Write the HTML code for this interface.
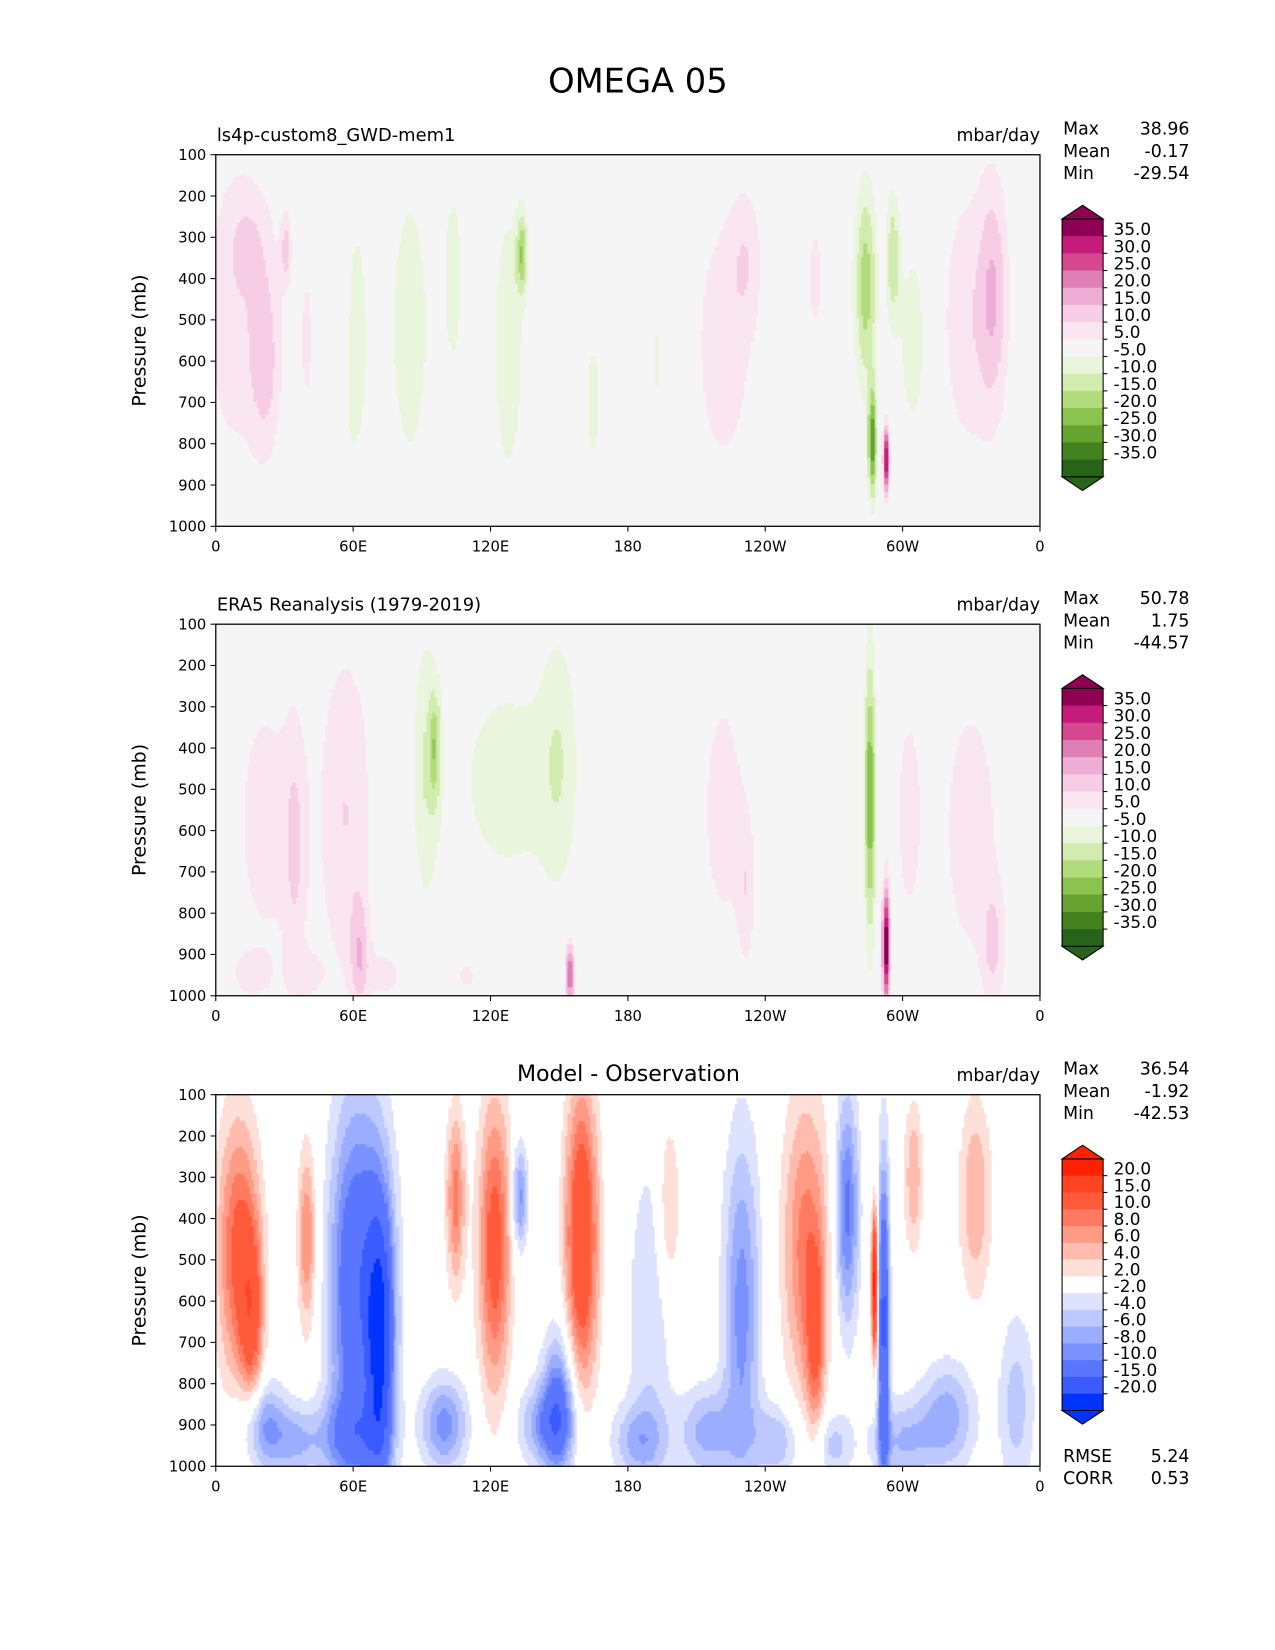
<!DOCTYPE html>
<html><head><meta charset="utf-8">
<style>
html,body{margin:0;padding:0;background:#fff;overflow:hidden;width:1275px;height:1650px;}
#wrap{position:relative;width:1211px;height:1567px;overflow:hidden;font-family:"Liberation Sans","DejaVu Sans",sans-serif;transform:scale(1.0526);transform-origin:0 0;}
canvas{position:absolute;display:block;}
svg{position:absolute;left:0;top:0;display:block;}
text{font-family:"DejaVu Sans","Liberation Sans",sans-serif;fill:#000;}
</style></head>
<body>
<div id="wrap">
<canvas id="c0" width="783" height="353" style="left:205px;top:147px"></canvas>
<canvas id="c1" width="783" height="353" style="left:205px;top:593px"></canvas>
<canvas id="c2" width="783" height="353" style="left:205px;top:1040px"></canvas>
<svg id="ov" width="1211" height="1567"></svg>
</div>
<script>
// ---- data: blobs [lon(0..360 east from 0), pressure center, lon halfwidth, p halfwidth, amplitude]
const modelLon=[8,22,31,60,85,104,128,134,165,193,222,232,262,284,287,293,296,305,330,340,15,40,55];
const modelP=[500,600,330,550,520,400,560,340,700,600,560,350,400,420,800,840,350,550,500,430,300,550,400];
const modelLW=[14,7,2.5,8,10,4,7,2.5,4,3,14,7,4,5,1.8,1.3,3,7,14,6,10,4,4];
const modelPW=[380,240,90,380,400,220,360,100,200,170,360,170,160,250,130,80,160,270,350,280,140,270,300];
const modelAmp=[8,11,12,-8,-8,-9,-9,-18,-7,-6,8,7,7,-18,-30,40,-14,-8,9,11,6,6,6];

const eraLon=[22,35,57,63,92,96,128,150,155,222,232,286,293,303,330,340,75,110,40,250,15];
const eraP=[580,650,560,900,450,400,480,420,950,550,750,520,880,560,600,880,950,950,950,960,950];
const eraLW=[16,5,12,4,6,2.5,28,8,2,10,4,2.5,1.6,7,14,5,10,10,8,6,10];
const eraPW=[400,320,420,140,340,130,320,320,80,320,200,340,140,320,370,140,70,70,60,60,60];
const eraAmp=[7,8,10,11,-9,-13,-7,-7,26,8,8,-24,42,7,8,10,6,6,6,5,5];

const diffLon=[10,16,40,65,72,57,105,122,133,160,150,190,198,230,258,262,276,288,292,305,332,20,100,145,215,320,350,35,60,185,245,300,270];
const diffP=[480,650,450,520,700,600,350,470,350,450,850,650,380,620,470,700,380,560,650,300,350,900,900,900,920,880,850,940,930,940,940,940,950];
const diffLW=[9,5,4,12,6,9,4,7,3.5,7,7,10,5,8,10,4,5,1.4,2.5,4,7,10,10,12,12,12,8,12,14,12,10,14,8];
const diffPW=[320,240,220,440,320,420,210,350,130,360,180,420,220,420,360,220,280,160,380,180,240,110,110,100,110,130,220,90,100,90,90,100,80];
const diffAmp=[11,9,8,-10,-18,-6,9,12,-9,15,-10,-4,5,-9,9,8,-11,24,-16,6,6,-8,-9,-8,-7,-7,-5,-6,-8,-6,-6,-6,-5];

const piyLevels=[-35,-30,-25,-20,-15,-10,-5,5,10,15,20,25,30,35];
const piyColors=["#276419","#43821f","#66a331","#8bc34f","#b2dc7c","#d2ecb0","#eaf5dd","#f5f5f5","#fae6f0","#f7cde6","#eeadd4","#e07fb5","#d6478f","#c51b7d","#8e0152"];
const dLev=[-20,-15,-10,-8,-6,-4,-2,2,4,6,8,10,15,20];
const dCol=["#0033ff","#3a5bff","#5a76ff","#7a92ff","#9aadff","#bcc8ff","#dde3ff","#ffffff","#ffe0d8","#ffbcad","#ff9a85","#ff7a60","#ff5a3a","#ff4422","#ff2200"];
const xTickLabels=["0","60E","120E","180","120W","60W","0"];
const xTickVals=[0,60,120,180,240,300,360];
const yTickVals=[100,200,300,400,500,600,700,800,900,1000];

function field(lons,ps,lw,pw,amp,lon,p){
  let v=0;
  for(let i=0;i<lons.length;i++){
    let dl=(lon-lons[i])/lw[i], dp=(p-ps[i])/pw[i];
    v+=amp[i]*Math.exp(-(dl*dl+dp*dp));
  }
  return v;
}
function colorFor(v,levels,colors){
  let i=0; while(i<levels.length && v>=levels[i]) i++;
  return colors[Math.min(i,colors.length-1)];
}
const W=783,H=353;
function xs(lon){return lon/360*W;}
function ys(p){return (p-100)/900*H;}
function draw(id,L,P,LW,PW,A,levels,colors){
  const ctx=document.getElementById(id).getContext('2d');
  const dl=1,dp=8;
  for(let lon=0;lon<360;lon+=dl){
    for(let p=100;p<1000;p+=dp){
      const v=field(L,P,LW,PW,A,lon+dl/2,p+dp/2);
      ctx.fillStyle=colorFor(v,levels,colors);
      ctx.fillRect(Math.floor(xs(lon)),Math.floor(ys(p)),Math.ceil(xs(dl))+1,Math.ceil(ys(100+dp))+1);
    }
  }
}
draw('c0',modelLon,modelP,modelLW,modelPW,modelAmp,piyLevels,piyColors);
draw('c1',eraLon,eraP,eraLW,eraPW,eraAmp,piyLevels,piyColors);
draw('c2',diffLon,diffP,diffLW,diffPW,diffAmp,dLev,dCol);

const NS="http://www.w3.org/2000/svg";
const ov=document.getElementById('ov');
function el(tag,attrs,txt){const e=document.createElementNS(NS,tag);for(const k in attrs)e.setAttribute(k,attrs[k]);if(txt!==undefined)e.textContent=txt;ov.appendChild(e);return e;}

let t=el('text',{x:606,y:88,'font-size':32,'text-anchor':'middle'},'OMEGA 05');



const panels=[
 {top:147,left:'ls4p-custom8_GWD-mem1',center:'',stats:[['Max','38.96'],['Mean','-0.17'],['Min','-29.54']],cb:'piy'},
 {top:593,left:'ERA5 Reanalysis (1979-2019)',center:'',stats:[['Max','50.78'],['Mean','1.75'],['Min','-44.57']],cb:'piy'},
 {top:1040,left:'',center:'Model - Observation',stats:[['Max','36.54'],['Mean','-1.92'],['Min','-42.53']],cb:'diff'}
];
panels.forEach((pn,k)=>{
  const T=pn.top,Lx=205;
  let r=el('rect',{x:Lx,y:T,width:W,height:H,fill:'none',stroke:'#000','stroke-width':1.2});
  
  
  yTickVals.forEach(v=>{
    const y=T+ys(v);
    el('line',{x1:Lx-5,x2:Lx,y1:y,y2:y,stroke:'#000'});
    let tl=el('text',{x:Lx-9,y:y+5,'font-size':14,'text-anchor':'end'},String(v));
    
    
  });
  xTickVals.forEach((v,i)=>{
    const x=Lx+xs(v);
    el('line',{x1:x,x2:x,y1:T+H,y2:T+H+5,stroke:'#000'});
    let tl=el('text',{x:x,y:T+H+24,'font-size':14,'text-anchor':'middle'},xTickLabels[i]);
    
    
  });
  let yl=el('text',{x:0,y:0,'font-size':18,'text-anchor':'middle',transform:`translate(138,${T+H/2}) rotate(-90)`},'Pressure (mb)');
  
  
  if(pn.left){let a=el('text',{x:206,y:T-13,'font-size':17},pn.left);}
  if(pn.center){let a=el('text',{x:597,y:T-13,'font-size':21,'text-anchor':'middle'},pn.center);}
  let u=el('text',{x:988,y:T-13,'font-size':16.5,'text-anchor':'end'},'mbar/day');
  
  
  pn.stats.forEach((s,j)=>{
    const y=T-19+j*21;
    let a=el('text',{x:1010,y:y,'font-size':16.5},s[0]);
    let b=el('text',{x:1130,y:y,'font-size':16.5,'text-anchor':'end'},s[1]);
  });
  const cx=1009,cw=39;
  const levels=pn.cb==='piy'?piyLevels:dLev;
  const cols=pn.cb==='piy'?piyColors:dCol;
  const top=T+61, bot=pn.cb==='piy'?T+306:T+300;
  const bh=(bot-top)/(levels.length+1);
  for(let i=0;i<cols.length;i++){
    const ci=cols.length-1-i;
    let rr=el('rect',{x:cx,y:top+i*bh,width:cw,height:bh+0.6,fill:cols[ci]});
    
    
  }
  const realBot=top+cols.length*bh;
  el('polygon',{points:`${cx},${top} ${cx+cw/2},${top-13} ${cx+cw},${top}`,fill:cols[cols.length-1],stroke:'#000'});
  el('polygon',{points:`${cx},${realBot} ${cx+cw/2},${realBot+13} ${cx+cw},${realBot}`,fill:cols[0],stroke:'#000'});
  el('line',{x1:cx,x2:cx,y1:top,y2:realBot,stroke:'#000'});
  el('line',{x1:cx+cw,x2:cx+cw,y1:top,y2:realBot,stroke:'#000'});
  for(let i=0;i<levels.length;i++){
    const y=top+(i+1)*bh;
    const v=levels[levels.length-1-i];
    el('line',{x1:cx+cw,x2:cx+cw+4,y1:y,y2:y,stroke:'#000'});
    let lb=el('text',{x:cx+cw+10,y:y-1,'font-size':16},v.toFixed(1));
    
    
  }
  if(k===2){
    [['RMSE','5.24'],['CORR','0.53']].forEach((s,j)=>{
      const y=1389+j*21;
      let a=el('text',{x:1010,y:y,'font-size':16.5},s[0]);
      let b=el('text',{x:1130,y:y,'font-size':16.5,'text-anchor':'end'},s[1]);
    });
  }
});
</script>
</body></html>
